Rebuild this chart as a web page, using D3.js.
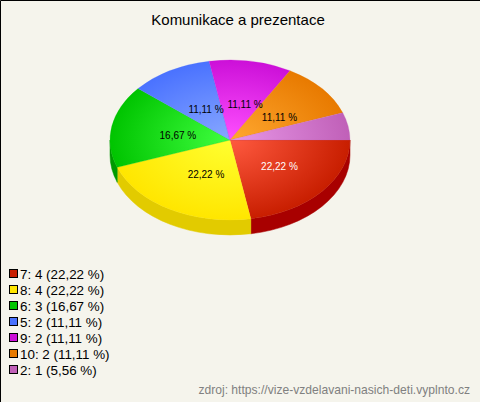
<!DOCTYPE html>
<html><head><meta charset="utf-8">
<script src="https://cdn.jsdelivr.net/npm/d3@7/dist/d3.min.js"></script>
<style>html,body{margin:0;padding:0;background:#f5f4ec}svg{display:block}</style>
</head><body><svg id="c" width="480" height="402"></svg>
<script>
const title = "Komunikace a prezentace";
const source = "zdroj: https://vize-vzdelavani-nasich-deti.vyplnto.cz";
const categories = ["7","8","6","5","9","10","2"];
const counts = [4,4,3,2,2,2,1];
const percents = ["22,22","22,22","16,67","11,11","11,11","11,11","5,56"];
const baseColors = ["#c81e00","#ffe600","#00c400","#4a72ff","#cc10d8","#e87a00","#c060b8"];
const lightColors = ["#ff5a40","#ffff30","#40ff40","#88a8ff","#ff50ff","#ffa830","#e898e8"];
const sideColors = ["#a80000","#e2cb00","#009a00","#3a5acc","#a00cac","#b86000","#985090"];
const labelColors = ["#ffffff","#000000","#000000","#000000","#000000","#000000",null];

const W=480,H=402,cx=230,cy=140,rx=120,ry=80,depth=15;
const font="Liberation Sans, Arial, sans-serif";
const svg=d3.select("#c");
svg.append("rect").attr("width",W).attr("height",H).attr("fill","#f5f4ec");
svg.append("path").attr("d",`M0.5,${H}V0.5H${W}`).attr("fill","none").attr("stroke","#000");

const pie=d3.pie().value(d=>d).sort(null).startAngle(Math.PI/2).endAngle(Math.PI*2.5);
const arcs=pie(counts);
const defs=svg.append("defs");
arcs.forEach((a,i)=>{
  const g=defs.append("radialGradient").attr("id","g"+i).attr("gradientUnits","userSpaceOnUse")
    .attr("cx",0).attr("cy",0).attr("r",rx);
  g.append("stop").attr("offset",0).attr("stop-color",lightColors[i]);
  g.append("stop").attr("offset",1).attr("stop-color",baseColors[i]);
});
const k=ry/rx;
const pt=(t)=>{const s=t-Math.PI/2;return [cx+rx*Math.cos(s),cy+ry*Math.sin(s)];};

// side walls
const sides=svg.append("g");
arcs.forEach((a,i)=>{
  const lo=Math.max(a.startAngle,Math.PI/2), hi=Math.min(a.endAngle,Math.PI*1.5);
  if(hi<=lo) return;
  const [x0,y0]=pt(lo),[x1,y1]=pt(hi);
  const big=hi-lo>Math.PI?1:0;
  sides.append("path").attr("fill",sideColors[i]).attr("stroke",sideColors[i]).attr("stroke-width",0.5)
   .attr("d",`M${x0},${y0}A${rx},${ry} 0 ${big} 1 ${x1},${y1}L${x1},${y1+depth}A${rx},${ry} 0 ${big} 0 ${x0},${y0+depth}Z`);
});
// top face
const arcGen=d3.arc().innerRadius(0).outerRadius(rx);
svg.append("g").attr("transform",`translate(${cx},${cy}) scale(1,${k})`)
  .selectAll("path").data(arcs).join("path")
  .attr("d",arcGen).attr("fill",(d,i)=>`url(#g${i})`)
  .attr("stroke",(d,i)=>baseColors[i]).attr("stroke-width",0.3);

// slice labels
arcs.forEach((a,i)=>{
  if(!labelColors[i]) return;
  const s=(a.startAngle+a.endAngle)/2-Math.PI/2;
  svg.append("text").attr("x",cx+5+58*Math.cos(s)).attr("y",cy+2+38*Math.sin(s)+3.5)
    .attr("text-anchor","middle").attr("font-family",font)
    .attr("font-size",10).attr("fill",labelColors[i]).text(percents[i]+" %");
});

svg.append("text").attr("x",238).attr("y",25).attr("text-anchor","middle")
  .attr("font-family",font).attr("font-size",15).attr("fill","#000").text(title);

const leg=svg.append("g");
const rowY=d3.scalePoint().domain(categories).range([274,370]);
categories.forEach((c,i)=>{
  const y=rowY(c);
  leg.append("rect").attr("x",9.5).attr("y",y-4.5).attr("width",8).attr("height",8)
    .attr("fill",baseColors[i]).attr("stroke","#000");
  leg.append("text").attr("x",20).attr("y",y+5).attr("font-family",font)
    .attr("font-size",13.4).attr("fill","#000").text(`${c}: ${counts[i]} (${percents[i]} %)`);
});
svg.append("text").attr("x",470).attr("y",394).attr("text-anchor","end")
  .attr("font-family",font).attr("font-size",12.1).attr("fill","#808080").text(source);
</script></body></html>
